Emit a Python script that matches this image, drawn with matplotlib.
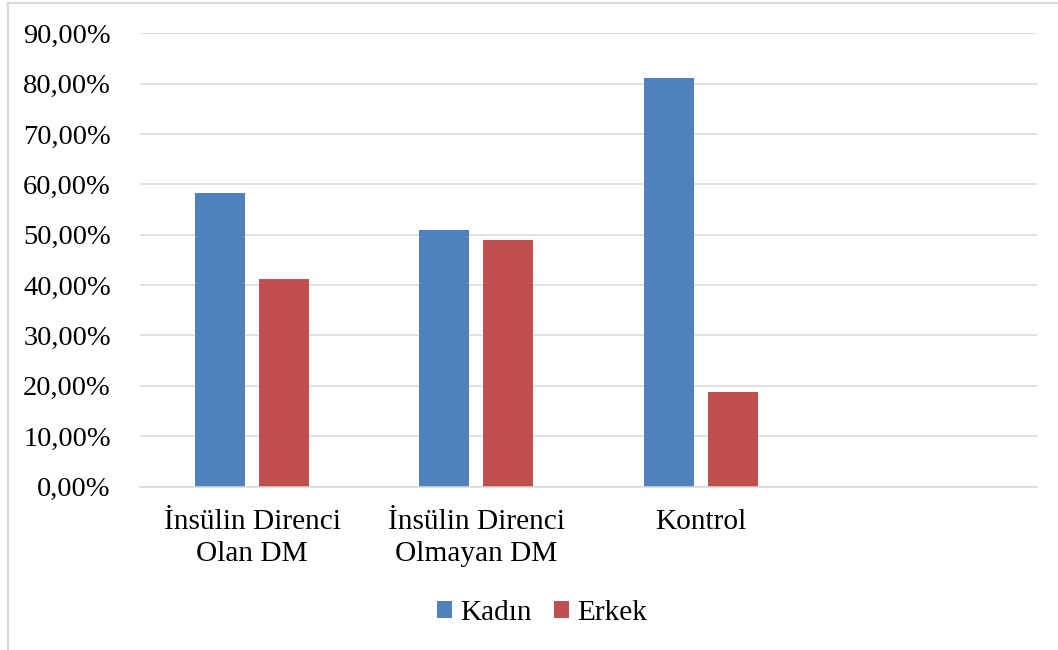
import matplotlib
matplotlib.use("Agg")
import matplotlib.pyplot as plt
from matplotlib.patches import Patch
from matplotlib.lines import Line2D
import numpy as np

# Data
categories = ["İnsülin Direnci\nOlan DM", "İnsülin Direnci\nOlmayan DM", "Kontrol", ""]
kadin = [58.2, 51.0, 81.2, np.nan]
erkek = [41.3, 49.0, 18.8, np.nan]
series_names = ["Kadın", "Erkek"]
yticks = [0, 10, 20, 30, 40, 50, 60, 70, 80, 90]
ytick_labels = ["0,00%", "10,00%", "20,00%", "30,00%", "40,00%",
                "50,00%", "60,00%", "70,00%", "80,00%", "90,00%"]

BLUE = "#4F81BD"
RED = "#C0504D"
GRID = "#D9D9D9"

plt.rcParams["font.family"] = ["Liberation Serif", "DejaVu Serif"]
FS_Y = 20.5
FS = 21.2

W, H = 1058, 650
fig = plt.figure(figsize=(W / 100, H / 100), dpi=100)
ax = fig.add_axes([140 / W, 1 - 486.5 / H, (1037 - 140) / W, (486.5 - 33.3) / H])

x = np.arange(len(categories))
width = 0.223
offset = 0.143
ax.bar(x - offset, kadin, width, color=BLUE, label=series_names[0], zorder=3)
ax.bar(x + offset, erkek, width, color=RED, label=series_names[1], zorder=3)

ax.set_xlim(-0.5, len(categories) - 0.5)
ax.set_ylim(0, 90)
ax.set_yticks(yticks)
ax.set_yticklabels(ytick_labels, fontsize=FS_Y)
ax.set_xticks(x)
ax.set_xticklabels(categories, fontsize=FS, linespacing=1.3)
ax.tick_params(axis="y", length=0, pad=21.0)
ax.tick_params(axis="x", length=0, pad=16)

ax.grid(axis="y", color=GRID, linewidth=1.1, zorder=0)
for s in ["top", "right", "left"]:
    ax.spines[s].set_visible(False)
ax.spines["bottom"].set_color(GRID)
ax.spines["bottom"].set_linewidth(1.1)
ax.spines["bottom"].set_zorder(4)

handles = [Patch(facecolor=BLUE, edgecolor="none"), Patch(facecolor=RED, edgecolor="none")]
fig.legend(handles, series_names, loc="center", bbox_to_anchor=(542 / W, 1 - 613 / H),
           ncol=2, frameon=False, fontsize=FS, handlelength=0.5, handleheight=0.5,
           handletextpad=0.28, columnspacing=0.75)

# Chart area border (left and top edges)
fig.add_artist(Line2D([7.5 / W, 7.5 / W], [0, 1 - 3 / H], transform=fig.transFigure,
                      color=GRID, linewidth=1.5))
fig.add_artist(Line2D([7.5 / W, 1], [1 - 3 / H, 1 - 3 / H], transform=fig.transFigure,
                      color=GRID, linewidth=1.5))

fig.savefig("out.png", dpi=100, facecolor="white")
